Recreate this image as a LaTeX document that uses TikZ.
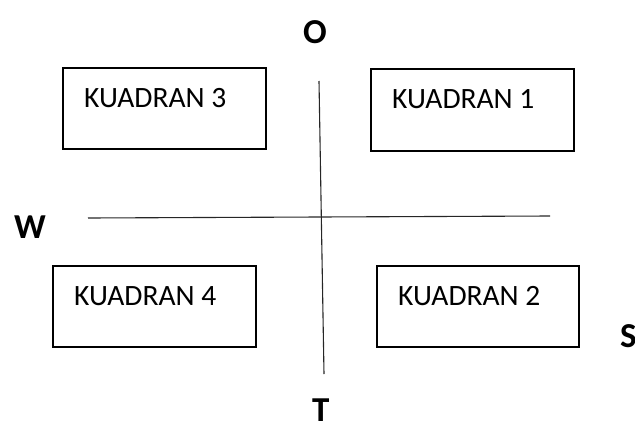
\documentclass[tikz,border=0pt]{standalone}
\usepackage{fontspec}
\setmainfont{Carlito}
\begin{document}
\begin{tikzpicture}[x=1pt,y=-1pt,
  qbox/.style={draw=black,line width=1.4pt,inner sep=0pt},
  qtext/.style={anchor=base west,inner sep=0pt,font=\fontsize{29.5}{31}\selectfont},
  dirtext/.style={anchor=base west,inner sep=0pt,font=\fontsize{35}{37}\selectfont\bfseries},
  axis/.style={draw=black!85,line width=1.1pt}]
\useasboundingbox (0,0) rectangle (635,421);
% boxes
\draw[qbox] (63,68) rectangle (266,149) coordinate (b3);
\draw[qbox] (371,69) rectangle (574,151) coordinate (b1);
\draw[qbox] (53,266) rectangle (256,347) coordinate (b4);
\draw[qbox] (377,266) rectangle (579,347) coordinate (b2);
% labels
\node[qtext] (t3) at (84,107) {KUADRAN 3};
\node[qtext] (t1) at (392,108) {KUADRAN 1};
\node[qtext] (t4) at (74,305) {KUADRAN 4};
\node[qtext] (t2) at (398,305) {KUADRAN 2};
% axes
\coordinate (vt) at (319,81);
\coordinate (vb) at (324,374);
\coordinate (hl) at (88,218);
\coordinate (hr) at (550,216);
\draw[axis] (vt) -- (vb);
\draw[axis] (hl) -- (hr);
% directions
\node[dirtext] (o) at (303,43) {O};
\node[dirtext] (w) at (14,238) {W};
\node[dirtext] (s) at (620,347) {S};
\node[dirtext] (t) at (312,421) {T};
\end{tikzpicture}
\end{document}
